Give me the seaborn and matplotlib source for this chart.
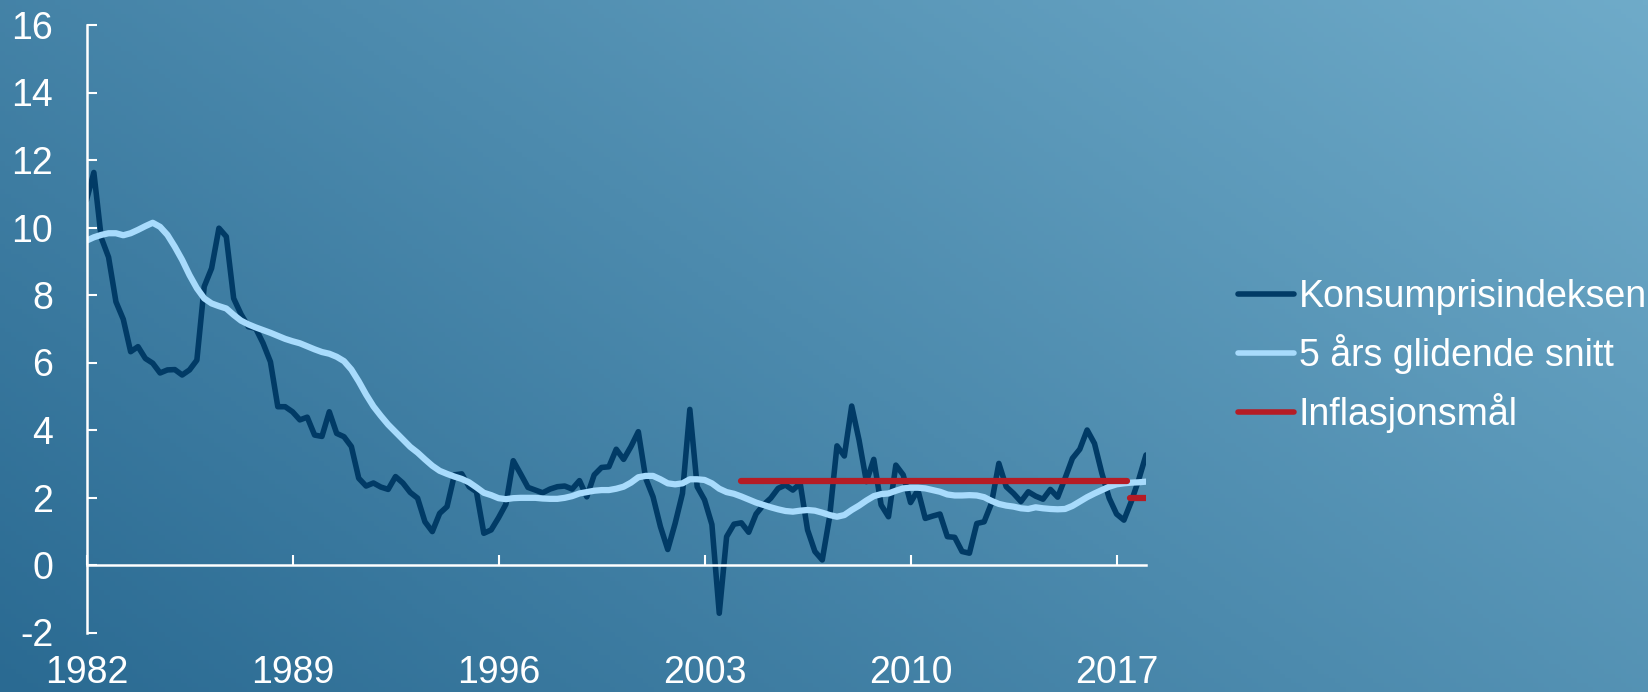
import numpy as np
import pandas as pd
import matplotlib
matplotlib.use("Agg")
import matplotlib.pyplot as plt
import seaborn as sns

# -----------------------------
# Data (quarterly 1982Q1 - 2018Q1)
# -----------------------------
kvartal = np.arange(1982, 2018.01, 0.25)

kpi = [10.81, 11.63, 9.70, 9.12, 7.80, 7.28, 6.32, 6.47, 6.12, 5.98,
       5.69, 5.78, 5.79, 5.63, 5.78, 6.07, 8.25, 8.79, 9.98, 9.73,
       7.90, 7.43, 7.06, 7.01, 6.57, 6.02, 4.69, 4.69, 4.54, 4.30,
       4.38, 3.85, 3.81, 4.54, 3.90, 3.80, 3.51, 2.57, 2.34, 2.43,
       2.31, 2.24, 2.62, 2.43, 2.15, 1.98, 1.28, 0.99, 1.53, 1.73,
       2.67, 2.70, 2.32, 2.17, 0.94, 1.04, 1.40, 1.80, 3.09, 2.70,
       2.30, 2.22, 2.14, 2.25, 2.32, 2.34, 2.25, 2.50, 2.02, 2.67,
       2.89, 2.91, 3.43, 3.13, 3.51, 3.95, 2.57, 2.02, 1.14, 0.46,
       1.23, 2.12, 4.61, 2.32, 1.93, 1.20, -1.43, 0.84, 1.21, 1.25,
       0.97, 1.51, 1.78, 1.98, 2.27, 2.37, 2.22, 2.42, 1.04, 0.40,
       0.15, 1.43, 3.53, 3.23, 4.71, 3.70, 2.47, 3.13, 1.78, 1.43,
       2.96, 2.67, 1.85, 2.22, 1.38, 1.45, 1.51, 0.84, 0.82, 0.40,
       0.35, 1.23, 1.28, 1.83, 3.01, 2.32, 2.12, 1.88, 2.17, 2.04,
       1.95, 2.24, 2.01, 2.57, 3.16, 3.43, 4.00, 3.60, 2.72, 1.98,
       1.51, 1.33, 1.88, 2.52, 3.26]

snitt_5ar = [9.61, 9.71, 9.78, 9.83, 9.83, 9.77, 9.83, 9.93, 10.04, 10.14,
             10.02, 9.78, 9.43, 9.04, 8.59, 8.20, 7.90, 7.75, 7.67, 7.60,
             7.41, 7.24, 7.13, 7.04, 6.96, 6.88, 6.79, 6.70, 6.63, 6.57,
             6.48, 6.39, 6.31, 6.26, 6.17, 6.04, 5.79, 5.44, 5.05, 4.70,
             4.42, 4.16, 3.94, 3.72, 3.50, 3.33, 3.13, 2.94, 2.79, 2.70,
             2.62, 2.55, 2.45, 2.30, 2.14, 2.07, 1.98, 1.95, 1.98, 1.99,
             1.99, 1.99, 1.97, 1.96, 1.96, 1.99, 2.04, 2.12, 2.16, 2.20,
             2.22, 2.22, 2.26, 2.32, 2.44, 2.60, 2.64, 2.64, 2.54, 2.42,
             2.39, 2.42, 2.54, 2.54, 2.52, 2.42, 2.26, 2.16, 2.11, 2.03,
             1.94, 1.85, 1.78, 1.71, 1.65, 1.60, 1.58, 1.61, 1.63, 1.61,
             1.55, 1.48, 1.43, 1.48, 1.63, 1.76, 1.91, 2.04, 2.10, 2.12,
             2.20, 2.27, 2.29, 2.29, 2.27, 2.22, 2.17, 2.09, 2.06, 2.06,
             2.07, 2.06, 2.01, 1.90, 1.81, 1.76, 1.73, 1.68, 1.66, 1.71,
             1.68, 1.66, 1.65, 1.66, 1.75, 1.88, 2.01, 2.12, 2.22, 2.32,
             2.39, 2.42, 2.44, 2.45, 2.47]

# inflation target: two periods
maal_start = [2004.25, 2017.45]
maal_slutt = [2017.35, 2018.0]
maal_verdi = [2.5, 2.0]

x_ticks = [1982, 1989, 1996, 2003, 2010, 2017]
y_ticks = [-2, 0, 2, 4, 6, 8, 10, 12, 14, 16]

df = pd.DataFrame({"aar": kvartal, "kpi": kpi, "snitt": snitt_5ar})

# -----------------------------
# Figure
# -----------------------------
sns.set_style("white")
plt.rcParams["font.family"] = ["Liberation Sans", "DejaVu Sans"]
plt.rcParams["axes.unicode_minus"] = False

fig = plt.figure(figsize=(16.48, 6.92), dpi=100)

# gradient background
bg = fig.add_axes([0, 0, 1, 1], zorder=-1)
xf = np.linspace(0, 1, 300)
yf = np.linspace(1, 0, 150)
t = 0.62 * xf[None, :] + 0.38 * yf[:, None]
dark = np.array([0x2a, 0x6a, 0x92]) / 255
light = np.array([0x6f, 0xab, 0xc9]) / 255
img = dark[None, None, :] + t[:, :, None] * (light - dark)[None, None, :]
bg.imshow(img, aspect="auto", extent=[0, 1, 0, 1])
bg.axis("off")

ax = fig.add_axes([86.5 / 1648, 1 - 632.5 / 692, (1146 - 86.5) / 1648, (632.5 - 25) / 692])
ax.set_facecolor("none")

sns.lineplot(data=df, x="aar", y="kpi", ax=ax, color="#013b66", linewidth=4.0,
             label="Konsumprisindeksen", solid_capstyle="round", solid_joinstyle="round")
sns.lineplot(data=df, x="aar", y="snitt", ax=ax, color="#a8dbfc", linewidth=4.5,
             label="5 års glidende snitt", solid_capstyle="round", solid_joinstyle="round")
for i in range(len(maal_verdi)):
    seg = pd.DataFrame({"aar": [maal_start[i], maal_slutt[i]],
                        "maal": [maal_verdi[i], maal_verdi[i]]})
    sns.lineplot(data=seg, x="aar", y="maal", ax=ax, color="#b51c25", linewidth=4.5,
                 label="Inflasjonsmål" if i == 0 else "_nolegend_",
                 solid_capstyle="round")

ax.set_xlim(1982, 2018)
ax.set_ylim(-2, 16)
ax.set_xticks(x_ticks)
ax.set_yticks(y_ticks)
ax.set_xlabel("")
ax.set_ylabel("")

for side in ["top", "right"]:
    ax.spines[side].set_visible(False)
for side in ["left", "bottom"]:
    ax.spines[side].set_color("white")
    ax.spines[side].set_linewidth(1.8)
ax.spines["bottom"].set_position(("data", 0))

ax.tick_params(axis="y", left=True, direction="in", length=7.5, width=1.5,
               colors="white", labelsize=27, pad=24)
ax.tick_params(axis="x", bottom=True, direction="in", length=7.5, width=1.5,
               colors="white", labelsize=27, pad=65)

leg = ax.legend(loc="center left", bbox_to_anchor=(1238 / 1648, 1 - 356 / 692),
                bbox_transform=fig.transFigure, frameon=False, fontsize=27,
                handlelength=1.5, handletextpad=0.12, labelspacing=0.5,
                borderpad=0, borderaxespad=0)
for txt in leg.get_texts():
    txt.set_color("white")
for line in leg.get_lines():
    line.set_linewidth(4)
    line.set_solid_capstyle("round")

fig.savefig("out.png", dpi=100)
